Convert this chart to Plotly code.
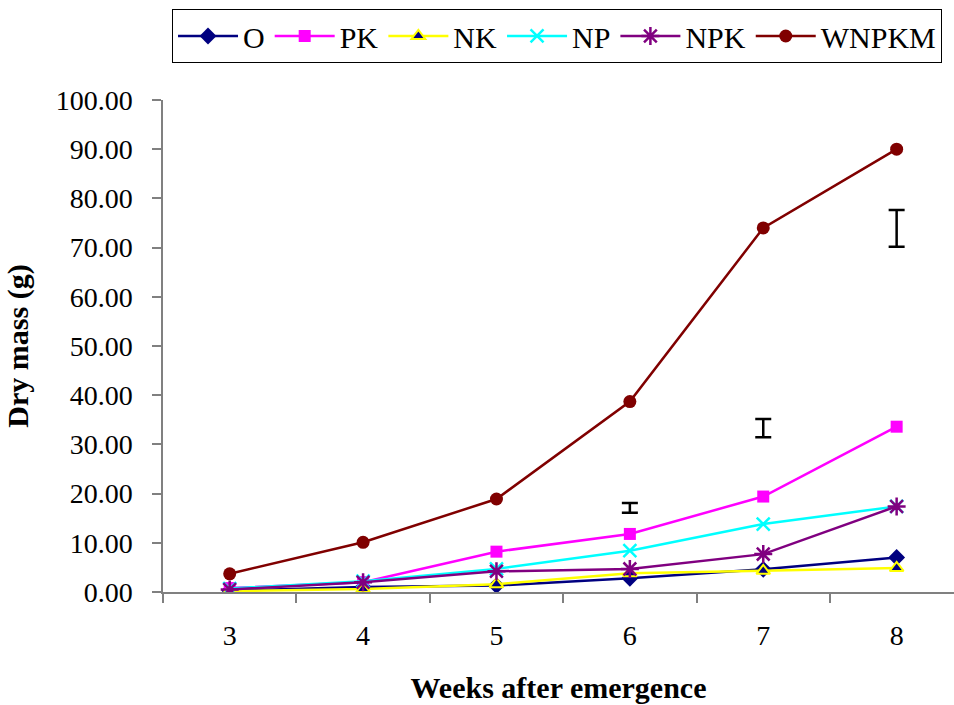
import plotly.graph_objects as go

# Weeks after emergence (category axis)
weeks = ["3", "4", "5", "6", "7", "8"]

# Dry mass (g) per fertiliser treatment
dm_O = [0.3, 1.0, 1.3, 2.8, 4.6, 7.0]
dm_PK = [0.8, 2.0, 8.2, 11.8, 19.4, 33.6]
dm_NK = [0.2, 0.6, 1.6, 3.8, 4.3, 4.9]
dm_NP = [0.7, 2.2, 4.7, 8.4, 13.8, 17.4]
dm_NPK = [0.5, 2.0, 4.2, 4.7, 7.7, 17.4]
dm_WNPKM = [3.7, 10.1, 18.9, 38.7, 74.0, 90.0]

# LSD bars shown at weeks 6-8
lsd_weeks = ["6", "7", "8"]
lsd_centre = [17.1, 33.3, 73.9]
lsd_half = [1.0, 1.85, 3.75]

FONT = "Liberation Serif"

series = [
    ("O", dm_O, "#000080", dict(symbol="diamond", size=13, color="#000080")),
    ("PK", dm_PK, "#FF00FF", dict(symbol="square", size=12, color="#FF00FF")),
    ("NK", dm_NK, "#FFFF00", dict(symbol="triangle-up", size=12, color="#000080",
                                  line=dict(color="#FFFF00", width=2))),
    ("NP", dm_NP, "#00FFFF", dict(symbol="x-thin-open", size=13, color="#00FFFF",
                                  line=dict(color="#00FFFF", width=2.5))),
    ("NPK", dm_NPK, "#800080", dict(symbol="asterisk-open", size=15, color="#800080",
                                    line=dict(color="#800080", width=2.5))),
    ("WNPKM", dm_WNPKM, "#800000", dict(symbol="circle", size=13, color="#800000")),
]

fig = go.Figure()
for name, vals, col, mk in series:
    fig.add_trace(go.Scatter(
        x=weeks, y=vals, name=name, mode="lines+markers",
        line=dict(color=col, width=2.5), marker=mk,
    ))

fig.add_trace(go.Scatter(
    x=lsd_weeks, y=lsd_centre, mode="markers", showlegend=False,
    marker=dict(size=1, opacity=0),
    error_y=dict(type="data", array=lsd_half, visible=True,
                 color="black", thickness=2.5, width=8),
))

axis_col = "#808080"
fig.update_layout(
    width=954, height=705,
    margin=dict(l=163, r=0, t=100, b=113, autoexpand=False),
    paper_bgcolor="white", plot_bgcolor="white",
    font=dict(family=FONT, size=28, color="black"),
    legend=dict(
        orientation="h", x=0.0114, y=1.185, xanchor="left", yanchor="top",
        bordercolor="black", borderwidth=1, font=dict(family=FONT, size=30),
        itemwidth=60, bgcolor="white",
    ),
    xaxis=dict(
        type="category", range=[-0.5, 5.43], tickson="boundaries",
        showline=True, linecolor=axis_col, linewidth=1.5,
        ticks="outside", ticklen=9, tickcolor=axis_col, tickwidth=1.5,
        showgrid=False, zeroline=False, ticklabelstandoff=18,
        title=dict(text="<b>Weeks after emergence</b>", font=dict(size=30), standoff=27),
    ),
    yaxis=dict(
        range=[0, 100], tickvals=[0, 10, 20, 30, 40, 50, 60, 70, 80, 90, 100],
        tickformat=".2f",
        showline=True, linecolor=axis_col, linewidth=1.5,
        ticks="outside", ticklen=9, tickcolor=axis_col, tickwidth=1.5,
        showgrid=False, zeroline=False, ticklabelstandoff=14,
        title=dict(text="<b>Dry mass (g)</b>", font=dict(size=30), standoff=18),
    ),
)

fig.write_html("out.html")
